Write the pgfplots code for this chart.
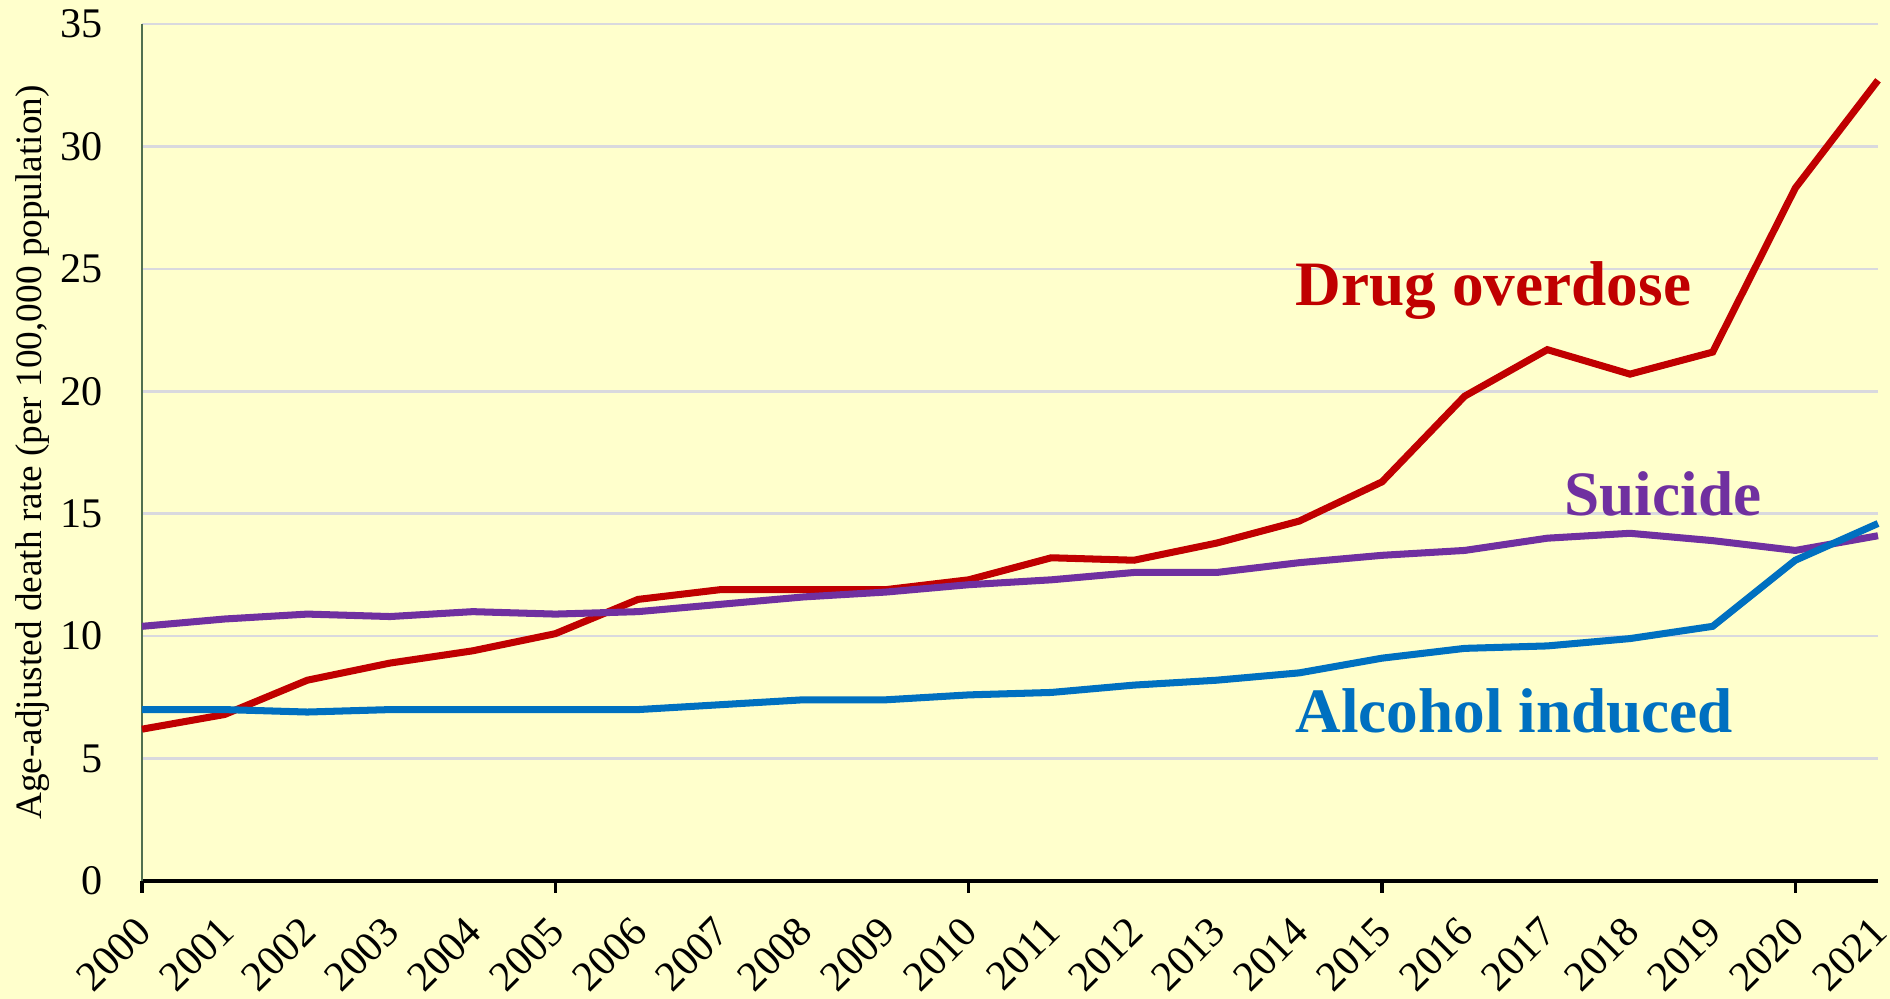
\documentclass[border=0pt]{standalone}
\usepackage{pgfplots}
\pgfplotsset{compat=1.18}
\usepackage{fontspec}
\setmainfont{Liberation Serif}

\definecolor{bgyellow}{RGB}{255,255,204}
\definecolor{drugred}{RGB}{192,0,0}
\definecolor{suipurple}{RGB}{112,48,160}
\definecolor{alcblue}{RGB}{0,112,192}
\definecolor{gridgray}{RGB}{217,217,222}
\definecolor{yaxisgreen}{RGB}{80,112,80}

\begin{document}
\begin{tikzpicture}
  \fill[bgyellow] (0,0) rectangle (18.9cm,9.99cm);
  \useasboundingbox (0,0) rectangle (18.9cm,9.99cm);
  \begin{axis}[
      at={(1.42cm,1.18cm)}, anchor=south west,
      scale only axis,
      width=17.36cm, height=8.57cm,
      xmin=2000, xmax=2021,
      ymin=0, ymax=35,
      axis x line=bottom, axis y line=left,
      x axis line style={-, black, line width=1pt},
      y axis line style={-, yaxisgreen, line width=0.7pt},
      xtick={2000,...,2021},
      ytick={0,5,...,35},
      major tick length=0pt,
      ytick style={draw=none},
      extra x ticks={2000,2005,2010,2015,2020},
      extra x tick labels={},
      extra x tick style={tick align=outside, major tick length=0.12cm,
        tick style={black, line width=0.9pt}},
      ymajorgrids,
      grid style={gridgray, line width=0.7pt},
      /pgf/number format/assume math mode=true,
      /pgf/number format/set thousands separator={},
      tick label style={font=\fontsize{12}{14}\selectfont},
      xticklabel style={xshift=0.02cm, yshift=-0.43cm, rotate=45,
        anchor=east, inner sep=0pt},
      yticklabel style={anchor=east, inner sep=0pt, xshift=-0.39cm},
      ylabel={Age-adjusted death rate (per 100,000 population)},
      ylabel style={at={(axis description cs:-0.0628,0.5)}, anchor=center,
        font=\fontsize{10.6}{12}\selectfont},
      clip=false,
    ]
    % Drug overdose
    \addplot[drugred, line width=2pt] coordinates {
      (2000,6.2) (2001,6.8) (2002,8.2) (2003,8.9) (2004,9.4) (2005,10.1)
      (2006,11.5) (2007,11.9) (2008,11.9) (2009,11.9) (2010,12.3)
      (2011,13.2) (2012,13.1) (2013,13.8) (2014,14.7) (2015,16.3)
      (2016,19.8) (2017,21.7) (2018,20.7) (2019,21.6) (2020,28.3)
      (2021,32.7)
    };
    % Suicide
    \addplot[suipurple, line width=2pt] coordinates {
      (2000,10.4) (2001,10.7) (2002,10.9) (2003,10.8) (2004,11.0) (2005,10.9)
      (2006,11.0) (2007,11.3) (2008,11.6) (2009,11.8) (2010,12.1)
      (2011,12.3) (2012,12.6) (2013,12.6) (2014,13.0) (2015,13.3)
      (2016,13.5) (2017,14.0) (2018,14.2) (2019,13.9) (2020,13.5)
      (2021,14.1)
    };
    % Alcohol induced
    \addplot[alcblue, line width=2pt] coordinates {
      (2000,7.0) (2001,7.0) (2002,6.9) (2003,7.0) (2004,7.0) (2005,7.0)
      (2006,7.0) (2007,7.2) (2008,7.4) (2009,7.4) (2010,7.6)
      (2011,7.7) (2012,8.0) (2013,8.2) (2014,8.5) (2015,9.1)
      (2016,9.5) (2017,9.6) (2018,9.9) (2019,10.4) (2020,13.1)
      (2021,14.6)
    };
    \node[drugred, font=\fontsize{18}{20}\selectfont\bfseries] at (axis cs:2016.35,24.1) {Drug overdose};
    \node[suipurple, font=\fontsize{18}{20}\selectfont\bfseries] at (axis cs:2018.4,15.8) {Suicide};
    \node[alcblue, font=\fontsize{18}{20}\selectfont\bfseries] at (axis cs:2016.6,6.95) {Alcohol induced};
  \end{axis}
\end{tikzpicture}
\end{document}
